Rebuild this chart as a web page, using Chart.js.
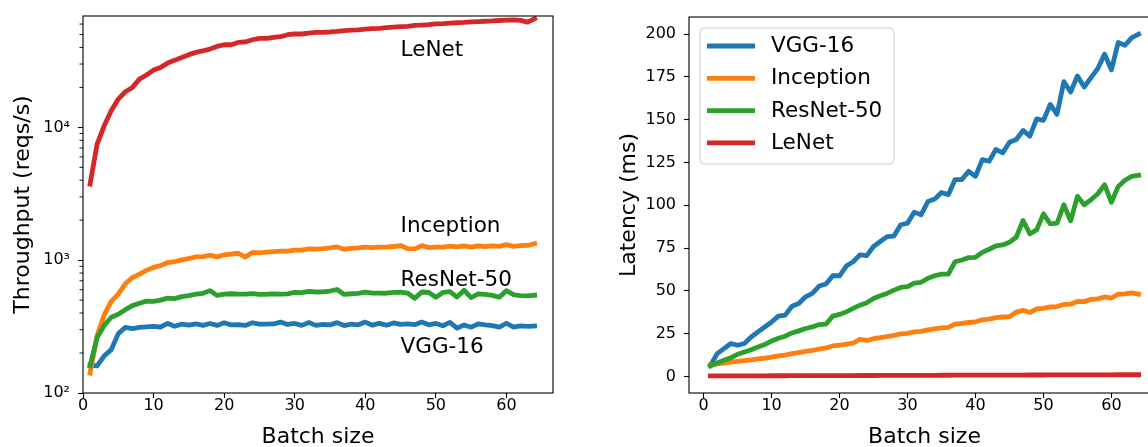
<!DOCTYPE html>
<html>
<head>
<meta charset="utf-8">
<script src="https://cdn.jsdelivr.net/npm/chart.js@4.4.1/dist/chart.umd.min.js"></script>
<style>
html, body { margin: 0; padding: 0; background: #fff; overflow: hidden; width: 1148px; height: 447px; }
#throughput_chart { position: absolute; left: 0; top: 0; }
#latency_chart { position: absolute; left: 600px; top: 0; }
</style>
</head>
<body>
<canvas id="throughput_chart" width="562" height="447"></canvas>
<canvas id="latency_chart" width="570" height="447"></canvas>
<script>
var batchSizes = [1, 2, 3, 4, 5, 6, 7, 8, 9, 10, 11, 12, 13, 14, 15, 16,
	17, 18, 19, 20, 21, 22, 23, 24, 25, 26, 27, 28, 29, 30, 31, 32,
	33, 34, 35, 36, 37, 38, 39, 40, 41, 42, 43, 44, 45, 46, 47, 48,
	49, 50, 51, 52, 53, 54, 55, 56, 57, 58, 59, 60, 61, 62, 63, 64];

var modelNames = ['VGG-16', 'Inception', 'ResNet-50', 'LeNet'];
var modelColors = ['#1f77b4', '#ff7f0e', '#2ca02c', '#d62728'];

// throughput (reqs/s), left panel
var vggThroughput = [162, 160, 190, 212, 280, 312, 305, 312, 315, 318, 314, 334, 318, 330, 324, 331,
	323, 334, 323, 338, 326, 327, 323, 338, 330, 330, 331, 342, 328, 334, 323, 339,
	323, 328, 326, 339, 322, 330, 326, 342, 324, 334, 324, 337, 329, 332, 327, 342,
	326, 334, 321, 340, 308, 325, 313, 331, 326, 322, 313, 335, 313, 320, 318, 320];
var inceptionThroughput = [141, 270, 387, 490, 555, 665, 740, 786, 838, 882, 910, 960, 976, 1005, 1030, 1058,
	1063, 1090, 1060, 1098, 1110, 1128, 1055, 1145, 1136, 1150, 1159, 1172, 1169, 1190, 1192, 1217,
	1213, 1223, 1237, 1259, 1209, 1226, 1238, 1254, 1242, 1254, 1254, 1268, 1289, 1223, 1218, 1287,
	1244, 1256, 1256, 1275, 1262, 1280, 1256, 1281, 1267, 1280, 1272, 1310, 1271, 1286, 1291, 1333];
var resnetThroughput = [160, 262, 322, 372, 392, 424, 455, 474, 492, 490, 500, 518, 514, 532, 542, 555,
	563, 590, 543, 556, 559, 556, 555, 560, 552, 554, 558, 556, 558, 573, 569, 582,
	576, 578, 586, 602, 552, 559, 562, 575, 566, 565, 564, 573, 574, 566, 516, 576,
	572, 526, 572, 581, 528, 594, 523, 558, 552, 544, 527, 590, 550, 541, 539, 545];
var lenetThroughput = [3740, 7480, 10280, 13340, 16340, 18540, 20000, 23100, 24800, 27000, 28300, 30500, 32100, 33600, 35300, 36700,
	37800, 38900, 40700, 41900, 41900, 43600, 44000, 45700, 46800, 46800, 47600, 48200, 49900, 50500, 50500, 51300,
	51900, 52000, 52300, 52800, 53600, 54000, 54300, 54900, 55500, 55700, 56300, 56800, 57300, 57700, 58600, 59000,
	59400, 60200, 60400, 60900, 61400, 61700, 62300, 62600, 63000, 63300, 63800, 64300, 64500, 64000, 62000, 65800];

// latency (ms), right panel
var vggLatency = [6.4, 13.3, 16.2, 19.2, 18.2, 19.2, 23, 26, 28.9, 31.8, 35.2, 35.8, 41, 42.6, 46.5, 48.5,
	52.8, 54, 58.8, 58.8, 64.5, 67, 71, 70.6, 75.9, 78.8, 81.7, 82, 88.6, 89.5, 96, 94.4,
	102.2, 103.6, 107.5, 106.2, 115, 115, 119.8, 116.9, 126.7, 125.7, 132.6, 130.6, 136.8, 138.4, 143.7, 140.4,
	150.5, 149.6, 158.9, 153.1, 172.2, 166.2, 175.5, 169.1, 174.6, 179.9, 188.3, 179.1, 195.1, 193.5, 198, 200];
var inceptionLatency = [6.8, 7.3, 7.8, 8.3, 8.8, 9.2, 9.6, 10.2, 10.7, 11.3, 12, 12.5, 13.3, 13.9, 14.6, 15.2,
	16, 16.6, 17.8, 18.2, 18.8, 19.5, 21.7, 21, 22, 22.6, 23.3, 23.9, 24.8, 25.2, 26, 26.3,
	27.2, 27.8, 28.3, 28.6, 30.6, 31, 31.5, 31.9, 33, 33.5, 34.3, 34.7, 34.9, 37.6, 38.6, 37.3,
	39.4, 39.8, 40.6, 40.8, 42, 42.2, 43.8, 43.7, 45, 45.3, 46.4, 45.8, 48, 48.2, 48.8, 48];
var resnetLatency = [6.2, 7.8, 9.4, 10.9, 12.9, 14.3, 15.6, 17.2, 18.6, 20.7, 22.3, 23.5, 25.4, 26.6, 28, 28.9,
	30.3, 30.5, 35.2, 36.2, 37.7, 39.7, 41.6, 43, 45.5, 47.1, 48.5, 50.4, 52, 52.4, 54.5, 55,
	57.3, 58.8, 59.8, 59.8, 67, 68, 69.4, 69.6, 72.5, 74.3, 76.2, 76.8, 78.4, 81.3, 91.1, 83.3,
	85.6, 95, 89.1, 89.5, 100.3, 90.9, 105.2, 100.3, 103.2, 106.7, 112, 101.7, 111, 114.6, 116.9, 117.5];
var lenetLatency = [0.27, 0.27, 0.29, 0.30, 0.31, 0.32, 0.35, 0.35, 0.36, 0.37, 0.39, 0.39, 0.40, 0.42, 0.42, 0.44,
	0.45, 0.46, 0.47, 0.48, 0.50, 0.50, 0.52, 0.53, 0.53, 0.56, 0.57, 0.58, 0.58, 0.59, 0.61, 0.62,
	0.64, 0.65, 0.67, 0.68, 0.69, 0.70, 0.72, 0.73, 0.74, 0.75, 0.76, 0.77, 0.79, 0.80, 0.80, 0.81,
	0.82, 0.83, 0.84, 0.85, 0.86, 0.88, 0.88, 0.89, 0.90, 0.92, 0.92, 0.93, 0.95, 0.97, 1.02, 0.97];

var batchTicks = [0, 10, 20, 30, 40, 50, 60];
var throughputTicks = [100, 1000, 10000];
var throughputTickLabels = ['10²', '10³', '10⁴'];
var throughputMinorTicks = [200, 300, 400, 500, 600, 700, 800, 900,
	2000, 3000, 4000, 5000, 6000, 7000, 8000, 9000,
	20000, 30000, 40000, 50000, 60000];
var latencyTicks = [0, 25, 50, 75, 100, 125, 150, 175, 200];

// names written next to the curves of the left panel (data coordinates)
var labelSpots = [
	{text: 'LeNet', x: 45, y: 34200},
	{text: 'Inception', x: 45, y: 1626},
	{text: 'ResNet-50', x: 45, y: 640},
	{text: 'VGG-16', x: 45, y: 199}
];

var fontFamily = '"DejaVu Sans", sans-serif';
var lineWidth = 4.8;

function points(values) {
	return batchSizes.map(function (b, i) { return {x: b, y: values[i]}; });
}

function lineSet(i, values) {
	return {
		label: modelNames[i],
		data: points(values),
		borderColor: modelColors[i],
		backgroundColor: modelColors[i],
		borderWidth: lineWidth,
		borderCapStyle: 'square',
		borderJoinStyle: 'round',
		pointRadius: 0,
		tension: 0,
		fill: false,
		order: 4 - i
	};
}

function fixedTicks(list) {
	return function (axis) {
		axis.ticks = list.map(function (v) { return {value: v}; });
	};
}

var gridStyle = {
	display: true,
	drawOnChartArea: false,
	drawTicks: true,
	tickLength: 5,
	tickWidth: 1.1,
	tickColor: '#000',
	color: '#000'
};

var tickFont = {family: fontFamily, size: 16, lineHeight: 1};
var titleFont = {family: fontFamily, size: 22, lineHeight: 0.9};
var sideTitleFont = {family: fontFamily, size: 22, lineHeight: 1};

function roundRect(ctx, x, y, w, h, r) {
	ctx.beginPath();
	ctx.moveTo(x + r, y);
	ctx.arcTo(x + w, y, x + w, y + h, r);
	ctx.arcTo(x + w, y + h, x, y + h, r);
	ctx.arcTo(x, y + h, x, y, r);
	ctx.arcTo(x, y, x + w, y, r);
	ctx.closePath();
}

var framePlugin = {
	id: 'frame',
	afterDatasetsDraw: function (chart) {
		var a = chart.chartArea, ctx = chart.ctx;
		ctx.save();
		ctx.strokeStyle = '#000';
		ctx.lineWidth = 1.1;
		ctx.strokeRect(a.left, a.top, a.right - a.left, a.bottom - a.top);
		ctx.restore();
	}
};

var minorTickPlugin = {
	id: 'minorTicks',
	afterDatasetsDraw: function (chart) {
		var y = chart.scales.y, left = chart.chartArea.left, ctx = chart.ctx;
		ctx.save();
		ctx.strokeStyle = '#000';
		ctx.lineWidth = 0.9;
		ctx.beginPath();
		throughputMinorTicks.forEach(function (v) {
			var py = y.getPixelForValue(v);
			ctx.moveTo(left - 3.5, py);
			ctx.lineTo(left, py);
		});
		ctx.stroke();
		ctx.restore();
	}
};

var lineLabelPlugin = {
	id: 'lineLabels',
	afterDatasetsDraw: function (chart) {
		var ctx = chart.ctx;
		ctx.save();
		ctx.font = '21.5px ' + fontFamily;
		ctx.fillStyle = '#000';
		ctx.textBaseline = 'alphabetic';
		labelSpots.forEach(function (s) {
			ctx.fillText(s.text, chart.scales.x.getPixelForValue(s.x), chart.scales.y.getPixelForValue(s.y));
		});
		ctx.restore();
	}
};

var legendBoxPlugin = {
	id: 'legendBox',
	afterDatasetsDraw: function (chart) {
		var a = chart.chartArea, ctx = chart.ctx;
		var bx = a.left + 11, by = a.top + 11, bw = 194, bh = 136;
		ctx.save();
		roundRect(ctx, bx, by, bw, bh, 4);
		ctx.fillStyle = 'rgba(255,255,255,0.8)';
		ctx.fill();
		ctx.strokeStyle = '#cccccc';
		ctx.lineWidth = 1;
		ctx.stroke();
		ctx.font = '21.5px ' + fontFamily;
		ctx.textBaseline = 'middle';
		ctx.fillStyle = '#000';
		chart.data.datasets.forEach(function (ds, i) {
			var cy = by + 18 + i * 32.3;
			ctx.beginPath();
			ctx.moveTo(bx + 7, cy);
			ctx.lineTo(bx + 55, cy);
			ctx.strokeStyle = ds.borderColor;
			ctx.lineWidth = lineWidth;
			ctx.lineCap = 'butt';
			ctx.stroke();
			ctx.fillText(ds.label, bx + 71, cy + 0.5);
		});
		ctx.restore();
	}
};

var config = {
	type: 'line',
	data: {
		datasets: [
			lineSet(0, vggThroughput),
			lineSet(1, inceptionThroughput),
			lineSet(2, resnetThroughput),
			lineSet(3, lenetThroughput)
		]
	},
	options: {
		responsive: false,
		animation: false,
		devicePixelRatio: 1,
		layout: {padding: {left: 0, top: 16, right: 9, bottom: 0}},
		plugins: {legend: {display: false}, tooltip: {enabled: false}},
		scales: {
			x: {
				type: 'linear',
				min: 0,
				max: 66.6,
				afterBuildTicks: fixedTicks(batchTicks),
				afterFit: function (s) { s.height = 54; },
				grid: gridStyle,
				border: {display: false},
				ticks: {color: '#000', padding: 0, maxRotation: 0, font: tickFont},
				title: {display: true, text: 'Batch size', color: '#000', font: titleFont, padding: {top: 0, bottom: 0}}
			},
			y: {
				type: 'logarithmic',
				min: 100,
				max: 69000,
				afterBuildTicks: fixedTicks(throughputTicks),
				afterFit: function (s) { s.width = 83; },
				grid: gridStyle,
				border: {display: false},
				ticks: {
					color: '#000',
					padding: 8,
					font: tickFont,
					callback: function (value) { return throughputTickLabels[throughputTicks.indexOf(value)]; }
				},
				title: {display: true, text: 'Throughput (reqs/s)', color: '#000', font: sideTitleFont, padding: {top: 12, bottom: 0}}
			}
		}
	},
	plugins: [framePlugin, minorTickPlugin, lineLabelPlugin]
};

var config2 = {
	type: 'line',
	data: {
		datasets: [
			lineSet(0, vggLatency),
			lineSet(1, inceptionLatency),
			lineSet(2, resnetLatency),
			lineSet(3, lenetLatency)
		]
	},
	options: {
		responsive: false,
		animation: false,
		devicePixelRatio: 1,
		layout: {padding: {left: 0, top: 17, right: 10, bottom: 0}},
		plugins: {legend: {display: false}, tooltip: {enabled: false}},
		scales: {
			x: {
				type: 'linear',
				min: -2.15,
				max: 67.15,
				afterBuildTicks: fixedTicks(batchTicks),
				afterFit: function (s) { s.height = 54; },
				grid: gridStyle,
				border: {display: false},
				ticks: {color: '#000', padding: 0, maxRotation: 0, font: tickFont},
				title: {display: true, text: 'Batch size', color: '#000', font: titleFont, padding: {top: 0, bottom: 0}}
			},
			y: {
				type: 'linear',
				min: -9.7,
				max: 210,
				afterBuildTicks: fixedTicks(latencyTicks),
				afterFit: function (s) { s.width = 89; },
				grid: gridStyle,
				border: {display: false},
				ticks: {color: '#000', padding: 8, font: tickFont},
				title: {display: true, text: 'Latency (ms)', color: '#000', font: sideTitleFont, padding: {top: 18, bottom: 0}}
			}
		}
	},
	plugins: [framePlugin, legendBoxPlugin]
};

var chart = new Chart(document.getElementById('throughput_chart'), config);
var chart2 = new Chart(document.getElementById('latency_chart'), config2);
</script>
</body>
</html>
